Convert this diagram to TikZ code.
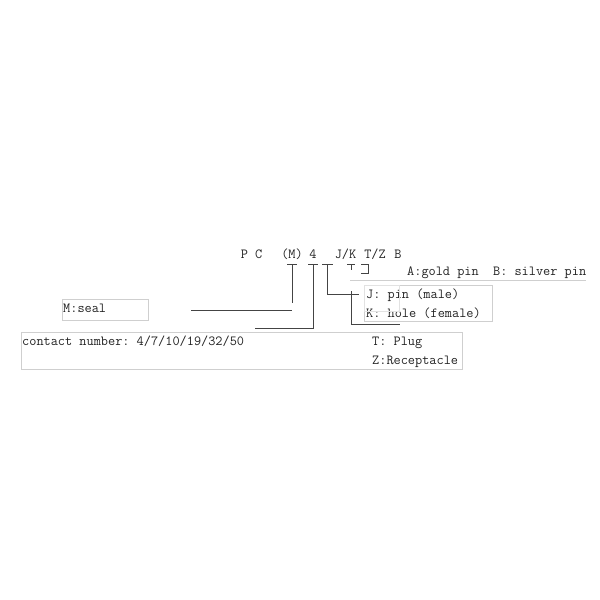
\documentclass[tikz,border=0pt]{standalone}
\usepackage{tikz}
\definecolor{inkgray}{HTML}{222222}
\definecolor{leadgray}{HTML}{444444}
\definecolor{boxgray}{HTML}{CFCFCF}
\definecolor{faintgray}{HTML}{E2E2E2}
\newcommand{\codefont}{\fontsize{13.9pt}{16pt}\selectfont\ttfamily\frenchspacing}
\tikzstyle{cblock} = [inner sep=0pt, anchor=base, text=inkgray, font=\codefont]
\tikzstyle{nblock} = [inner sep=0pt, anchor=base west, text=inkgray, font=\codefont]
\tikzstyle{lead} = [draw=leadgray, line width=0.9pt]
\tikzstyle{gbox} = [draw=boxgray, line width=0.7pt]

\begin{document}
\begin{tikzpicture}[x=1pt, y=-1pt]
	\useasboundingbox (0,0) rectangle (600,600);
	% part number
	\node (PC) [cblock] at (251.5,258) {P C};
	\node (Seal) [cblock] at (292,258) {(M)};
	\node (Num) [cblock] at (313,258) {4};
	\node (JK) [cblock] at (345.5,258) {J/K};
	\node (TZ) [cblock] at (375,258) {T/Z};
	\node (Plating) [cblock] at (398,258) {B};

	% notes
	\node (GoldNote) [nblock] at (407,275) {A:gold pin\ \ B: silver pin};
	\node (PinNote) [nblock] at (366,298) {J: pin (male)};
	\node (HoleNote) [nblock] at (366,317) {K: hole (female)};
	\node (SealNote) [nblock] at (63,312.5) {M:seal};
	\node (NumNote) [nblock] at (22,345) {contact number: 4/7/10/19/32/50};
	\node (PlugNote) [nblock] at (372,345) {T: Plug};
	\node (RecNote) [nblock] at (372,364) {Z:Receptacle};

	% frames
	\draw [gbox] (62,299) rectangle (148,320);
	\draw [gbox] (21,332) rectangle (462,369);
	\draw [gbox] (364,285) rectangle (492,321);
	\draw [draw=faintgray, line width=0.7pt] (364,285) rectangle (399,311);
	\coordinate (GoldLine) at (350,280);
	\draw [gbox] (GoldLine) -- (GoldNote.base east |- GoldLine);

	% leads
	\coordinate (MTick) at (292,264);
	\coordinate (NTick) at (313,264);
	\coordinate (JTick) at (327.5,264);
	\coordinate (KTick) at (351,264);
	\coordinate (MEnd) at (191,310);
	\coordinate (NEnd) at (255,328);
	\coordinate (KEnd) at (400,324);
	\draw [lead] ([xshift=-5pt]MTick) -- ([xshift=5pt]MTick);
	\draw [lead] (MTick) -- ++(0,39);
	\draw [lead] (MEnd) -- (MTick |- MEnd);
	\draw [lead] ([xshift=-5pt]NTick) -- ([xshift=5pt]NTick);
	\draw [lead] (NTick) |- (NEnd);
	\draw [lead] ([xshift=-5.5pt]JTick) -- ([xshift=5.5pt]JTick);
	\draw [lead] (JTick) |- ([xshift=-7pt]PinNote.west);
	\draw [lead] ([xshift=-4pt]KTick) -- ([xshift=4pt]KTick);
	\draw [lead] (KTick) -- ++(0,6);
	\draw [lead] (KTick |- 0,291) |- (KEnd);
	\draw [lead] (361,264.5) -- (368,264.5) -- (368,273) -- (361,273);
\end{tikzpicture}
\end{document}
